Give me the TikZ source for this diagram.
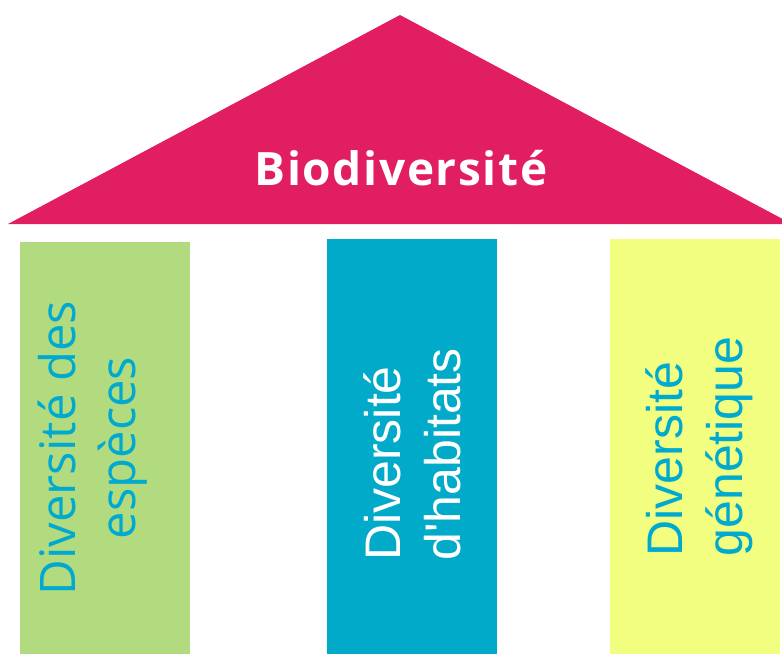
\documentclass[tikz,border=0pt]{standalone}
\usepackage{fontspec}
\setmainfont{Liberation Sans}
\newfontfamily\opensans{Open Sans}
\newfontfamily\titlefont[LetterSpace=3.5]{Open Sans}

\definecolor{roof}{HTML}{E21E63}
\definecolor{leafgreen}{HTML}{B1DB7E}
\definecolor{seablue}{HTML}{00AAC8}
\definecolor{paleyellow}{HTML}{F1FE80}
\definecolor{cyantext}{HTML}{00A9CF}

\begin{document}
\begin{tikzpicture}[x=1pt, y=-1pt,
  pillar/.style={rectangle, inner sep=0pt, minimum width=170pt},
  pillartext/.style={rotate=90, inner sep=0pt}]
  \useasboundingbox (0,0) rectangle (782,654);
  \clip (0,0) rectangle (782,654);

  % roof
  \fill[roof] (8,224) -- (400,15) -- (792,224) -- cycle;
  \node[anchor=base, text=white, inner sep=0pt,
        font=\titlefont\bfseries\fontsize{46}{46}\selectfont] (titre) at (401,185) {Biodiversité};

  % pillars
  \node[pillar, fill=leafgreen, minimum height=412pt] (especes) at (105,448) {};
  \node[pillar, fill=seablue, minimum height=415pt] (habitats) at (412,446.5) {};
  \node[pillar, fill=paleyellow, minimum height=415pt] (genetique) at (695,446.5) {};

  \node[pillartext, align=center, text=cyantext, font=\opensans\fontsize{49}{60}\selectfont]
    (especes-txt) at ([xshift=-12pt]especes.center) {Diversité des\\espèces};
  \node[pillartext, align=left, text=white, font=\fontsize{50}{60}\selectfont]
    (habitats-txt) at ([yshift=-8pt]habitats.center) {Diversité\\d\textquotesingle habitats};
  \node[pillartext, align=left, text=cyantext, font=\fontsize{50}{60}\selectfont]
    (genetique-txt) at ([xshift=4pt]genetique.center) {Diversité\\génétique};
\end{tikzpicture}
\end{document}
